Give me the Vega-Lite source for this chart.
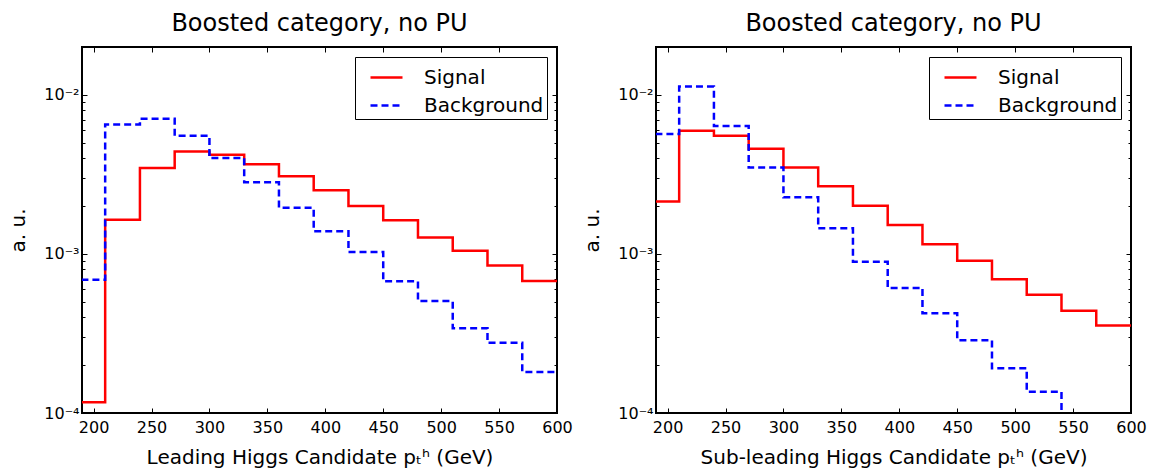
{
  "$schema": "https://vega.github.io/schema/vega-lite/v6.json",
  "padding": {"left": 7, "top": 11, "right": 5, "bottom": 5},
  "config": {
    "font": "DejaVu Sans",
    "view": {"stroke": "black", "strokeWidth": 2},
    "axis": {"domain": false, "grid": false, "labelFont": "DejaVu Sans", "labelFontSize": 16, "labelColor": "black", "tickColor": "black", "tickWidth": 1, "titleFont": "DejaVu Sans", "titleFontSize": 20, "titleFontWeight": "normal", "titleColor": "black"},
    "title": {"font": "DejaVu Sans", "fontSize": 24, "fontWeight": "normal", "color": "black", "offset": 3},
    "legend": {"orient": "top-right", "offset": 10, "title": null, "labelFont": "DejaVu Sans", "labelFontSize": 20, "labelColor": "black", "symbolType": "stroke", "symbolSize": 1024, "symbolStrokeWidth": 2.5, "symbolOffset": 11, "labelOffset": 20, "padding": 3, "rowPadding": -2, "strokeColor": "black", "fillColor": "white"}
  },
  "datasets": {
    "h": [
      {"p": "L", "s": "Signal", "x": 180, "v": 0.000117},
      {"p": "L", "s": "Signal", "x": 210, "v": 0.00164},
      {"p": "L", "s": "Signal", "x": 240, "v": 0.00347},
      {"p": "L", "s": "Signal", "x": 270, "v": 0.0044},
      {"p": "L", "s": "Signal", "x": 300, "v": 0.00421},
      {"p": "L", "s": "Signal", "x": 330, "v": 0.00366},
      {"p": "L", "s": "Signal", "x": 360, "v": 0.00308},
      {"p": "L", "s": "Signal", "x": 390, "v": 0.00251},
      {"p": "L", "s": "Signal", "x": 420, "v": 0.002},
      {"p": "L", "s": "Signal", "x": 450, "v": 0.00163},
      {"p": "L", "s": "Signal", "x": 480, "v": 0.00127},
      {"p": "L", "s": "Signal", "x": 510, "v": 0.001047},
      {"p": "L", "s": "Signal", "x": 540, "v": 0.000847},
      {"p": "L", "s": "Signal", "x": 570, "v": 0.000676},
      {"p": "L", "s": "Signal", "x": 600, "v": 0.000676},
      {"p": "L", "s": "Background", "x": 180, "v": 0.000689},
      {"p": "L", "s": "Background", "x": 210, "v": 0.00652},
      {"p": "L", "s": "Background", "x": 240, "v": 0.00707},
      {"p": "L", "s": "Background", "x": 270, "v": 0.00553},
      {"p": "L", "s": "Background", "x": 300, "v": 0.00401},
      {"p": "L", "s": "Background", "x": 330, "v": 0.00282},
      {"p": "L", "s": "Background", "x": 360, "v": 0.00195},
      {"p": "L", "s": "Background", "x": 390, "v": 0.00139},
      {"p": "L", "s": "Background", "x": 420, "v": 0.00103},
      {"p": "L", "s": "Background", "x": 450, "v": 0.000673},
      {"p": "L", "s": "Background", "x": 480, "v": 0.000506},
      {"p": "L", "s": "Background", "x": 510, "v": 0.000341},
      {"p": "L", "s": "Background", "x": 540, "v": 0.000276},
      {"p": "L", "s": "Background", "x": 570, "v": 0.000181},
      {"p": "L", "s": "Background", "x": 600, "v": 0.000181},
      {"p": "S", "s": "Signal", "x": 180, "v": 0.00214},
      {"p": "S", "s": "Signal", "x": 210, "v": 0.00594},
      {"p": "S", "s": "Signal", "x": 240, "v": 0.00553},
      {"p": "S", "s": "Signal", "x": 270, "v": 0.00458},
      {"p": "S", "s": "Signal", "x": 300, "v": 0.0035},
      {"p": "S", "s": "Signal", "x": 330, "v": 0.00266},
      {"p": "S", "s": "Signal", "x": 360, "v": 0.00201},
      {"p": "S", "s": "Signal", "x": 390, "v": 0.00152},
      {"p": "S", "s": "Signal", "x": 420, "v": 0.00115},
      {"p": "S", "s": "Signal", "x": 450, "v": 0.000906},
      {"p": "S", "s": "Signal", "x": 480, "v": 0.000692},
      {"p": "S", "s": "Signal", "x": 510, "v": 0.000554},
      {"p": "S", "s": "Signal", "x": 540, "v": 0.00044},
      {"p": "S", "s": "Signal", "x": 570, "v": 0.000355},
      {"p": "S", "s": "Signal", "x": 600, "v": 0.000355},
      {"p": "S", "s": "Background", "x": 180, "v": 0.00567},
      {"p": "S", "s": "Background", "x": 210, "v": 0.01127},
      {"p": "S", "s": "Background", "x": 240, "v": 0.00637},
      {"p": "S", "s": "Background", "x": 270, "v": 0.0035},
      {"p": "S", "s": "Background", "x": 300, "v": 0.00227},
      {"p": "S", "s": "Background", "x": 330, "v": 0.00145},
      {"p": "S", "s": "Background", "x": 360, "v": 0.000893},
      {"p": "S", "s": "Background", "x": 390, "v": 0.000611},
      {"p": "S", "s": "Background", "x": 420, "v": 0.000424},
      {"p": "S", "s": "Background", "x": 450, "v": 0.000287},
      {"p": "S", "s": "Background", "x": 480, "v": 0.000191},
      {"p": "S", "s": "Background", "x": 510, "v": 0.000136},
      {"p": "S", "s": "Background", "x": 540, "v": 0.00008},
      {"p": "S", "s": "Background", "x": 570, "v": 0.00006},
      {"p": "S", "s": "Background", "x": 600, "v": 0.00006}
    ]
  },
  "spacing": 7,
  "hconcat": [
    {
      "title": "Boosted category, no PU",
      "width": 475,
      "height": 366,
      "data": {"name": "h"},
      "transform": [{"filter": "datum.p == 'L'"}],
      "layer": [
        {
          "mark": {"type": "line", "interpolate": "step-after", "strokeWidth": 2.5, "clip": true},
          "encoding": {
            "x": {"field": "x", "type": "quantitative", "scale": {"domain": [190, 600], "nice": false, "zero": false}, "axis": {"orient": "bottom", "values": [200, 250, 300, 350, 400, 450, 500, 550, 600], "tickSize": -5, "labelPadding": 11, "labelFlush": false, "title": "Leading Higgs Candidate pₜʰ (GeV)", "titlePadding": 12}},
            "y": {"field": "v", "type": "quantitative", "scale": {"type": "log", "domain": [0.0001, 0.02], "nice": false}, "axis": {"orient": "left", "values": [0.0001, 0.0002, 0.0003, 0.0004, 0.0005, 0.0006, 0.0007, 0.0008, 0.0009, 0.001, 0.002, 0.003, 0.004, 0.005, 0.006, 0.007, 0.008, 0.009, 0.01, 0.02], "tickSize": {"condition": {"test": "datum.value == 0.01 || datum.value == 0.001 || datum.value == 0.0001", "value": -5}, "value": -3}, "labelExpr": "datum.value == 0.01 ? '10⁻²' : datum.value == 0.001 ? '10⁻³' : datum.value == 0.0001 ? '10⁻⁴' : ''", "labelOverlap": false, "labelPadding": 8, "labelFlush": false, "title": "a. u.", "titlePadding": 15}},
            "color": {"field": "s", "type": "nominal", "scale": {"domain": ["Signal", "Background"], "range": ["#ff0000", "#0000ff"]}},
            "strokeDash": {"field": "s", "type": "nominal", "scale": {"domain": ["Signal", "Background"], "range": [[1, 0], [7, 4]]}}
          }
        },
        {
          "mark": {"type": "point", "opacity": 0, "clip": true},
          "encoding": {
            "x": {"field": "x", "type": "quantitative", "scale": {"domain": [190, 600], "nice": false, "zero": false}, "axis": {"orient": "top", "values": [200, 250, 300, 350, 400, 450, 500, 550, 600], "tickSize": -5, "labels": false, "title": null}},
            "y": {"field": "v", "type": "quantitative", "scale": {"type": "log", "domain": [0.0001, 0.02], "nice": false}, "axis": {"orient": "right", "values": [0.0001, 0.0002, 0.0003, 0.0004, 0.0005, 0.0006, 0.0007, 0.0008, 0.0009, 0.001, 0.002, 0.003, 0.004, 0.005, 0.006, 0.007, 0.008, 0.009, 0.01, 0.02], "tickSize": {"condition": {"test": "datum.value == 0.01 || datum.value == 0.001 || datum.value == 0.0001", "value": -5}, "value": -3}, "labels": false, "title": null}}
          }
        }
      ],
      "resolve": {"axis": {"x": "independent", "y": "independent"}}
    },
    {
      "title": "Boosted category, no PU",
      "width": 475,
      "height": 366,
      "data": {"name": "h"},
      "transform": [{"filter": "datum.p == 'S'"}],
      "layer": [
        {
          "mark": {"type": "line", "interpolate": "step-after", "strokeWidth": 2.5, "clip": true},
          "encoding": {
            "x": {"field": "x", "type": "quantitative", "scale": {"domain": [190, 600], "nice": false, "zero": false}, "axis": {"orient": "bottom", "values": [200, 250, 300, 350, 400, 450, 500, 550, 600], "tickSize": -5, "labelPadding": 11, "labelFlush": false, "title": "Sub-leading Higgs Candidate pₜʰ (GeV)", "titlePadding": 12}},
            "y": {"field": "v", "type": "quantitative", "scale": {"type": "log", "domain": [0.0001, 0.02], "nice": false}, "axis": {"orient": "left", "values": [0.0001, 0.0002, 0.0003, 0.0004, 0.0005, 0.0006, 0.0007, 0.0008, 0.0009, 0.001, 0.002, 0.003, 0.004, 0.005, 0.006, 0.007, 0.008, 0.009, 0.01, 0.02], "tickSize": {"condition": {"test": "datum.value == 0.01 || datum.value == 0.001 || datum.value == 0.0001", "value": -5}, "value": -3}, "labelExpr": "datum.value == 0.01 ? '10⁻²' : datum.value == 0.001 ? '10⁻³' : datum.value == 0.0001 ? '10⁻⁴' : ''", "labelOverlap": false, "labelPadding": 8, "labelFlush": false, "title": "a. u.", "titlePadding": 15}},
            "color": {"field": "s", "type": "nominal", "scale": {"domain": ["Signal", "Background"], "range": ["#ff0000", "#0000ff"]}},
            "strokeDash": {"field": "s", "type": "nominal", "scale": {"domain": ["Signal", "Background"], "range": [[1, 0], [7, 4]]}}
          }
        },
        {
          "mark": {"type": "point", "opacity": 0, "clip": true},
          "encoding": {
            "x": {"field": "x", "type": "quantitative", "scale": {"domain": [190, 600], "nice": false, "zero": false}, "axis": {"orient": "top", "values": [200, 250, 300, 350, 400, 450, 500, 550, 600], "tickSize": -5, "labels": false, "title": null}},
            "y": {"field": "v", "type": "quantitative", "scale": {"type": "log", "domain": [0.0001, 0.02], "nice": false}, "axis": {"orient": "right", "values": [0.0001, 0.0002, 0.0003, 0.0004, 0.0005, 0.0006, 0.0007, 0.0008, 0.0009, 0.001, 0.002, 0.003, 0.004, 0.005, 0.006, 0.007, 0.008, 0.009, 0.01, 0.02], "tickSize": {"condition": {"test": "datum.value == 0.01 || datum.value == 0.001 || datum.value == 0.0001", "value": -5}, "value": -3}, "labels": false, "title": null}}
          }
        }
      ],
      "resolve": {"axis": {"x": "independent", "y": "independent"}}
    }
  ],
  "resolve": {"scale": {"color": "independent", "strokeDash": "independent"}, "legend": {"color": "independent", "strokeDash": "independent"}}
}
